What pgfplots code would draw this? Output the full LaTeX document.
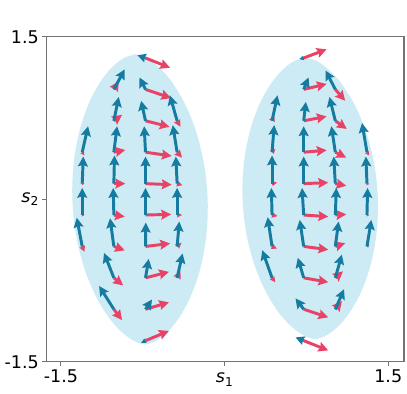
\documentclass[border=0pt]{standalone}
\usepackage{fontspec}
\setmainfont{DejaVu Sans}
\usepackage{pgfplots}
\usepackage{pgfplotstable}
\pgfplotsset{compat=1.18}
\usetikzlibrary{arrows.meta}

\definecolor{lensfill}{RGB}{205,235,244}
\definecolor{arrblue}{RGB}{22,123,160}
\definecolor{arrred}{RGB}{232,66,103}

% outlines of the two regions
\pgfplotstableread{
x y
-0.820 1.340
-0.730 1.313
-0.665 1.273
-0.587 1.206
-0.526 1.139
-0.475 1.072
-0.393 0.938
-0.328 0.804
-0.276 0.670
-0.235 0.536
-0.203 0.402
-0.179 0.268
-0.164 0.134
-0.155 0.000
-0.155 -0.134
-0.161 -0.268
-0.176 -0.402
-0.199 -0.536
-0.231 -0.670
-0.274 -0.804
-0.330 -0.938
-0.403 -1.072
-0.450 -1.139
-0.506 -1.206
-0.579 -1.273
-0.642 -1.313
-0.730 -1.340
-0.820 -1.313
-0.885 -1.273
-0.964 -1.206
-1.024 -1.139
-1.075 -1.072
-1.158 -0.938
-1.222 -0.804
-1.275 -0.670
-1.315 -0.536
-1.348 -0.402
-1.371 -0.268
-1.387 -0.134
-1.395 0.000
-1.396 0.134
-1.389 0.268
-1.375 0.402
-1.351 0.536
-1.320 0.670
-1.276 0.804
-1.221 0.938
-1.147 1.072
-1.100 1.139
-1.045 1.206
-0.971 1.273
-0.908 1.313
}\lensL

\pgfplotstableread{
x y
0.740 1.310
0.830 1.284
0.895 1.245
0.973 1.180
1.034 1.115
1.085 1.050
1.167 0.920
1.232 0.790
1.284 0.660
1.325 0.530
1.357 0.400
1.381 0.270
1.396 0.140
1.405 0.010
1.405 -0.120
1.399 -0.250
1.384 -0.380
1.361 -0.510
1.329 -0.640
1.286 -0.770
1.230 -0.900
1.157 -1.030
1.110 -1.095
1.054 -1.160
0.981 -1.225
0.918 -1.264
0.830 -1.290
0.740 -1.264
0.675 -1.225
0.596 -1.160
0.536 -1.095
0.485 -1.030
0.402 -0.900
0.338 -0.770
0.285 -0.640
0.245 -0.510
0.212 -0.380
0.189 -0.250
0.173 -0.120
0.165 0.010
0.164 0.140
0.171 0.270
0.185 0.400
0.209 0.530
0.240 0.660
0.284 0.790
0.339 0.920
0.413 1.050
0.460 1.115
0.515 1.180
0.589 1.245
0.652 1.284
}\lensR

% vector field: tail x y, blue (bu,bv), red (ru,rv)
\pgfplotstableread{
x y bu bv ru rv
-1.305 0.435 0.054 0.240 0.020 -0.030
-1.305 0.145 0.010 0.250 0.020 0.000
-1.305 -0.145 0.000 0.250 0.020 0.000
-1.305 -0.435 -0.050 0.265 0.020 -0.050
-1.015 1.015 0.100 0.185 0.045 0.075
-1.015 0.725 0.045 0.220 0.075 0.055
-1.015 0.435 0.030 0.240 0.105 0.020
-1.015 0.145 0.006 0.260 0.105 0.000
-1.015 -0.145 -0.006 0.250 0.100 -0.015
-1.015 -0.435 -0.035 0.260 0.100 -0.036
-1.015 -0.725 -0.090 0.230 0.085 -0.070
-1.015 -1.015 -0.135 0.215 0.075 -0.100
-0.725 1.305 -0.075 0.025 0.225 -0.090
-0.725 1.015 -0.055 0.110 0.235 -0.080
-0.725 0.725 -0.040 0.185 0.220 -0.055
-0.725 0.435 -0.012 0.240 0.240 -0.035
-0.725 0.145 0.000 0.250 0.240 -0.010
-0.725 -0.145 0.000 0.250 0.235 0.006
-0.725 -0.435 0.003 0.220 0.225 0.027
-0.725 -0.725 0.030 0.175 0.215 0.055
-0.725 -1.015 0.060 0.090 0.215 0.064
-0.725 -1.305 -0.040 -0.020 0.215 0.090
-0.435 0.725 -0.066 0.235 0.030 -0.055
-0.435 0.435 -0.040 0.250 0.045 -0.050
-0.435 0.145 -0.012 0.250 0.048 -0.015
-0.435 -0.145 0.000 0.250 0.045 0.000
-0.435 -0.435 0.020 0.230 0.040 0.035
-0.435 -0.725 0.050 0.225 0.030 0.065
}\fieldL

\pgfplotstableread{
x y bu bv ru rv
0.435 0.725 0.050 0.235 0.020 0.050
0.435 0.435 0.020 0.250 0.030 0.030
0.435 0.145 0.000 0.260 0.045 0.010
0.435 -0.145 -0.006 0.250 0.050 -0.010
0.435 -0.435 -0.040 0.270 0.045 -0.020
0.435 -0.725 -0.090 0.255 0.030 -0.040
0.725 1.305 -0.040 -0.010 0.210 0.080
0.725 1.015 0.045 0.110 0.210 0.050
0.725 0.725 0.020 0.175 0.210 0.040
0.725 0.435 0.000 0.240 0.210 0.018
0.725 0.145 0.000 0.250 0.225 0.009
0.725 -0.145 -0.015 0.250 0.225 -0.015
0.725 -0.435 -0.036 0.245 0.225 -0.030
0.725 -0.725 -0.054 0.185 0.225 -0.040
0.725 -1.015 -0.075 0.100 0.225 -0.075
0.725 -1.305 -0.075 0.030 0.225 -0.090
1.015 1.015 -0.090 0.175 0.090 -0.105
1.015 0.725 -0.054 0.220 0.105 -0.075
1.015 0.435 -0.036 0.240 0.100 -0.050
1.015 0.145 -0.015 0.250 0.100 -0.020
1.015 -0.145 0.009 0.250 0.100 0.006
1.015 -0.435 0.030 0.230 0.090 0.030
1.015 -0.725 0.060 0.215 0.070 0.060
1.015 -1.015 0.080 0.185 0.060 0.075
1.305 0.435 -0.045 0.270 0.020 -0.030
1.305 0.145 -0.010 0.250 0.020 -0.005
1.305 -0.145 0.006 0.250 0.020 0.000
1.305 -0.435 0.040 0.245 0.020 0.020
}\fieldR

\begin{document}
\begin{tikzpicture}
\begin{axis}[
  scale only axis,
  width=364pt, height=330.5pt,
  xmin=-1.635, xmax=1.645, ymin=-1.5, ymax=1.5,
  xtick={-1.5,0,1.5}, ytick={-1.5,0,1.5},
  xticklabels={\strut -1.5,\strut\textit{s}\textsubscript{1},\strut 1.5},
  yticklabels={-1.5,\raisebox{-3pt}{\textit{s}\textsubscript{2}},1.5},
  xtick pos=left, ytick pos=left,
  tick align=outside,
  major tick length=4pt,
  every tick/.style={black!55, line width=1pt},
  axis line style={black!55, line width=1.2pt},
  tick label style={font=\fontsize{17.8}{20}\selectfont},
  % short vectors get smaller heads, as in the original quiver
  redq/.style={point meta={sqrt(\thisrow{ru}^2+\thisrow{rv}^2)},
    point meta min=0, point meta max=0.09,
    quiver={u=\thisrow{ru}, v=\thisrow{rv},
      every arrow/.append style={line width=3pt,
        -{Stealth[length=10pt,width=10pt,inset=1.5pt,
          scale length={min(1,max(0.25,\pgfplotspointmetatransformed/1000))},
          scale width={min(1,max(0.3,\pgfplotspointmetatransformed/1000))}]}}}},
  blueq/.style={point meta={sqrt(\thisrow{bu}^2+\thisrow{bv}^2)},
    point meta min=0, point meta max=0.09,
    quiver={u=\thisrow{bu}, v=\thisrow{bv},
      every arrow/.append style={line width=3pt,
        -{Stealth[length=10pt,width=10pt,inset=1.5pt,
          scale length={min(1,max(0.25,\pgfplotspointmetatransformed/1000))},
          scale width={min(1,max(0.3,\pgfplotspointmetatransformed/1000))}]}}}},
]
\addplot[fill=lensfill, draw=none, smooth] table {\lensL} -- cycle;
\addplot[fill=lensfill, draw=none, smooth] table {\lensR} -- cycle;

\addplot[arrred, redq] table[x=x, y=y] {\fieldL};
\addplot[arrblue, blueq] table[x=x, y=y] {\fieldL};
\addplot[arrred, redq] table[x=x, y=y] {\fieldR};
\addplot[arrblue, blueq] table[x=x, y=y] {\fieldR};
\end{axis}
\pgfresetboundingbox
\path[use as bounding box] ([shift={(-47pt,-32pt)}]current axis.south west)
  rectangle ([shift={(3pt,37.5pt)}]current axis.north east);
\end{tikzpicture}
\end{document}
